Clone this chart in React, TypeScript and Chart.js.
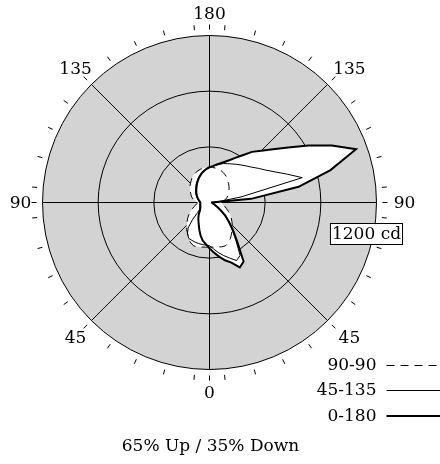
import React, { useEffect, useRef } from 'react';
import { Chart, registerables } from 'chart.js';

Chart.register(...registerables);

// Vertical angles in degrees: 0 = nadir (down), 180 = zenith (up)
const ANGLES = [
  0, 5, 10, 15, 20, 25, 30, 35, 40, 45, 50, 55, 60, 65, 70, 75, 80, 85, 90,
  95, 100, 105, 110, 115, 120, 125, 130, 135, 140, 145, 150, 155, 160, 165, 170, 175, 180,
];

// Candela per vertical angle, one list per half plane
const CD_0 = [
  330, 360, 395, 430, 460, 515, 490, 350, 265, 200, 150, 100, 65, 45, 33, 25, 20, 18, 18,
  300, 650, 900, 1120, 970, 820, 690, 595, 525, 475, 415, 370, 335, 310, 290, 275, 262, 253,
];
const CD_180 = [
  330, 300, 278, 246, 212, 182, 158, 140, 122, 105, 90, 82, 76, 72, 70, 68, 67, 66, 66,
  70, 76, 82, 90, 98, 106, 115, 124, 134, 145, 158, 172, 187, 202, 217, 230, 243, 253,
];
const CD_45 = [
  310, 335, 365, 395, 425, 460, 440, 330, 250, 190, 140, 100, 70, 50, 38, 30, 25, 22, 20,
  60, 230, 690, 595, 520, 466, 428, 395, 372, 352, 335, 320, 308, 298, 285, 272, 262, 253,
];
const CD_135 = [
  310, 308, 306, 305, 303, 300, 298, 275, 240, 170, 110, 88, 80, 76, 74, 72, 71, 70, 70,
  75, 80, 86, 94, 103, 112, 121, 131, 141, 152, 165, 178, 192, 206, 220, 233, 244, 253,
];
// 90-90 plane is symmetric: same list on both sides
const CD_90 = [
  320, 322, 325, 330, 332, 320, 300, 275, 255, 232, 210, 190, 170, 150, 130, 115, 100, 90, 85,
  95, 115, 128, 140, 148, 160, 172, 183, 193, 205, 218, 228, 236, 243, 248, 251, 253, 253,
];

const PLANES = ['0-180', '45-135', '90-90'];
const AXIS_LABELS = [0, 45, 90, 135, 180];
const MAX_CD = 1200;
const STEP_CD = 400;
const TITLE = '65% Up / 35% Down';

const FONT = '17px "DejaVu Serif", serif';
const DASH = [8, 6];

// left half goes nadir -> zenith, right half comes back zenith -> nadir
const spokes = [...ANGLES, ...ANGLES.slice(1, 36).reverse()];
const loop = (left: number[], right: number[]) => [...left, ...right.slice(1, 36).reverse()];

const photometricDecor = {
  id: 'photometricDecor',
  afterDraw(chart: any) {
    const scale = chart.scales.r;
    const ctx = chart.ctx as CanvasRenderingContext2D;
    const cx = scale.xCenter;
    const cy = scale.yCenter;
    const R = scale.getDistanceFromCenterForValue(MAX_CD);
    const labels = chart.data.labels as number[];

    ctx.save();
    ctx.strokeStyle = '#000';
    ctx.fillStyle = '#000';
    ctx.lineWidth = 1;

    // outer tick marks
    labels.forEach((v, i) => {
      if (v % 10 !== 5 && v % 45 !== 0) return;
      const a = scale.getPointPosition(i, R + 6);
      const b = scale.getPointPosition(i, R + 11);
      ctx.beginPath();
      ctx.moveTo(a.x, a.y);
      ctx.lineTo(b.x, b.y);
      ctx.stroke();
    });

    // angle labels
    ctx.font = FONT;
    ctx.textAlign = 'center';
    ctx.textBaseline = 'middle';
    labels.forEach((v, i) => {
      if (!AXIS_LABELS.includes(v)) return;
      const p = scale.getPointPosition(i, R + 21);
      const dx = p.x > cx + 5 ? 7 : p.x < cx - 5 ? -1 : 0;
      const dy = p.y > cy + 5 ? 3 : p.y < cy - 5 ? 0 : 1.5;
      ctx.fillText(String(v), p.x + dx, p.y + dy);
    });

    // scale value box
    const boxText = `${MAX_CD} cd`;
    const tw = ctx.measureText(boxText).width;
    const bx = cx + R - 10;
    const by = cy + 31.5;
    ctx.fillStyle = '#fff';
    ctx.fillRect(bx - tw / 2 - 1.5, by - 10.5, tw + 3, 21);
    ctx.strokeRect(bx - tw / 2 - 1.5, by - 10.5, tw + 3, 21);
    ctx.fillStyle = '#000';
    ctx.fillText(boxText, bx, by + 1);

    // legend, bottom right
    ctx.textAlign = 'right';
    const sets = [...chart.data.datasets].reverse();
    sets.forEach((ds: any, k: number) => {
      const y = Math.round(cy + R - 5 + k * 25.5);
      ctx.fillText(ds.label, cx + R, y + 1);
      const yl = ds.borderWidth % 2 ? y + 0.5 : y;
      ctx.beginPath();
      ctx.lineWidth = ds.borderWidth;
      ctx.setLineDash(ds.borderDash || []);
      ctx.moveTo(cx + R + 10, yl);
      ctx.lineTo(chart.width, yl);
      ctx.stroke();
    });
    ctx.setLineDash([]);

    // caption
    ctx.textAlign = 'center';
    ctx.fillText(TITLE, cx + 1, 447);
    ctx.restore();
  },
};

export default function App() {
  const canvasRef = useRef<HTMLCanvasElement>(null);

  useEffect(() => {
    if (!canvasRef.current) return;
    const line = { borderColor: '#000', backgroundColor: '#fff', fill: 'origin', pointRadius: 0, tension: 0 };
    const chart = new Chart(canvasRef.current, {
      type: 'radar',
      data: {
        labels: spokes,
        datasets: [
          { ...line, label: PLANES[0], data: loop(CD_180, CD_0), borderWidth: 2 },
          { ...line, label: PLANES[1], data: loop(CD_135, CD_45), borderWidth: 1 },
          { ...line, label: PLANES[2], data: loop(CD_90, CD_90), borderWidth: 1, borderDash: DASH },
        ],
      },
      options: {
        responsive: false,
        maintainAspectRatio: false,
        animation: false,
        events: [],
        layout: { padding: { left: 42, right: 64, top: 35, bottom: 95 } },
        plugins: {
          legend: { display: false },
          tooltip: { enabled: false },
          filler: { drawTime: 'beforeDatasetsDraw' },
        },
        scales: {
          r: {
            min: 0,
            max: MAX_CD,
            startAngle: 180,
            backgroundColor: '#d3d3d3',
            ticks: { display: false, stepSize: STEP_CD },
            grid: { circular: true, color: '#000', lineWidth: 1 },
            angleLines: {
              display: true,
              color: '#000',
              lineWidth: (c: any) => (c.index % 9 === 0 ? 1 : 0),
            },
            pointLabels: { display: false },
            // put the centre on a half pixel so the 1px spokes stay sharp
            afterFit: (s: any) => {
              s.xCenter += 0.5;
              s.yCenter += 0.5;
            },
          },
        },
      } as any,
      plugins: [photometricDecor],
    });
    return () => chart.destroy();
  }, []);

  return (
    <div style={{ position: 'absolute', left: 0, top: 0, width: 440, height: 464, background: '#fff' }}>
      <canvas ref={canvasRef} width={440} height={464} style={{ display: 'block', width: 440, height: 464 }} />
    </div>
  );
}
